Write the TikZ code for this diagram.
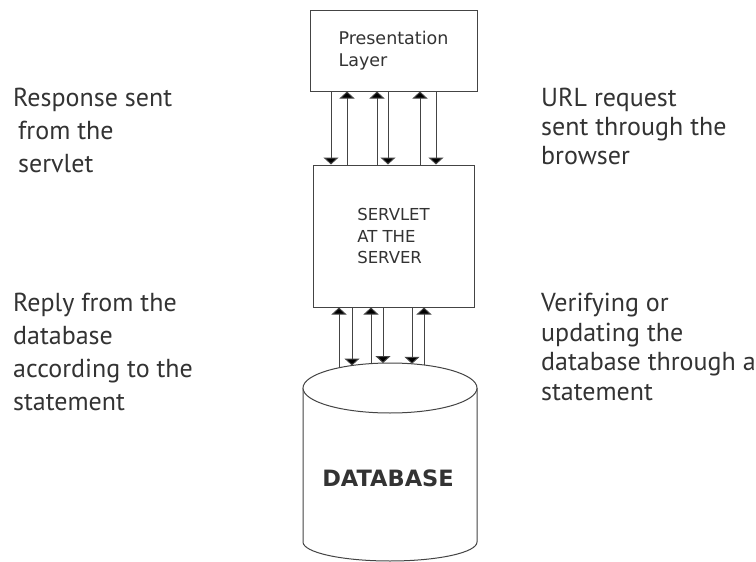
\documentclass[tikz,border=0pt]{standalone}
\usepackage{fontspec}
\setmainfont{PT Sans}
\newfontfamily\boxfont{DejaVu Sans}
\usetikzlibrary{arrows.meta}
\definecolor{ink}{HTML}{333333}
\definecolor{wire}{HTML}{444444}
\tikzset{
    border/.style = {
        draw=wire, rectangle, line width=1pt, align=left, text=ink
    },
    note/.style = {
        anchor=north west, align=left, inner sep=0pt, text=ink
    },
    link/.style = {
        draw=wire, line width=1pt, -{Triangle[width=15pt, length=7pt, fill=black]}
    },
}

\begin{document}
\begin{tikzpicture}[x=1pt, y=-1pt]
        \useasboundingbox (0,0) rectangle (756,562);

        % Place the blocks
        \node[border, minimum width=167pt, minimum height=81pt, font=\boxfont\fontsize{17.5}{22}\selectfont] (pres) at (393.5,50.5) {Presentation\\Layer};
        \node[border, minimum width=161pt, minimum height=142pt, font=\boxfont\fontsize{16.5}{21.5}\selectfont] (servlet) at (393.5,236) {SERVLET\\AT THE\\SERVER};

        % Database cylinder
        \coordinate (dbtop) at (390,388);
        \draw[wire, line width=1pt, fill=white] (303,388) -- (303,542) arc[start angle=180, end angle=360, x radius=87pt, y radius=19pt] -- (477,388);
        \draw[wire, line width=1pt, fill=white] (dbtop) ellipse[x radius=87pt, y radius=25pt];
        \node[font=\boxfont\bfseries\fontsize{22.5}{28}\selectfont, text=ink] (db) at (388,478) {DATABASE};

        % Draw connections
        \foreach \x in {331, 388, 436}
            \draw[link] (pres.south -| \x,0) -- (servlet.north -| \x,0);
        \foreach \x in {347, 377, 420}
            \draw[link] (servlet.north -| \x,0) -- (pres.south -| \x,0);
        \foreach \dx [evaluate=\dx as \h using {25*sqrt(1-(\dx/87)^2)}] in {-51, -19, 34}
            \draw[link] ([shift={(\dx,-\h)}]dbtop) -- (servlet.south -| 390+\dx,0);
        \foreach \dx [evaluate=\dx as \h using {25*sqrt(1-(\dx/87)^2)}] in {-38, -7, 22}
            \draw[link] (servlet.south -| 390+\dx,0) -- ([shift={(\dx,-\h)}]dbtop);

        % Labels
        \node[note, font=\fontsize{26}{33}\selectfont] (resp) at (13,88) {Response sent\\\hspace*{5pt}from the\\\hspace*{5pt}servlet};
        \node[note, font=\fontsize{26}{29}\selectfont] (url) at (541,88) {URL request\\sent through the\\browser};
        \node[note, font=\fontsize{26}{33}\selectfont] (reply) at (13,293) {Reply from the\\database\\according to the\\statement};
        \node[note, font=\fontsize{26}{29.5}\selectfont] (verify) at (541,293) {Verifying or\\updating the\\database through a\\statement};
\end{tikzpicture}
\end{document}
